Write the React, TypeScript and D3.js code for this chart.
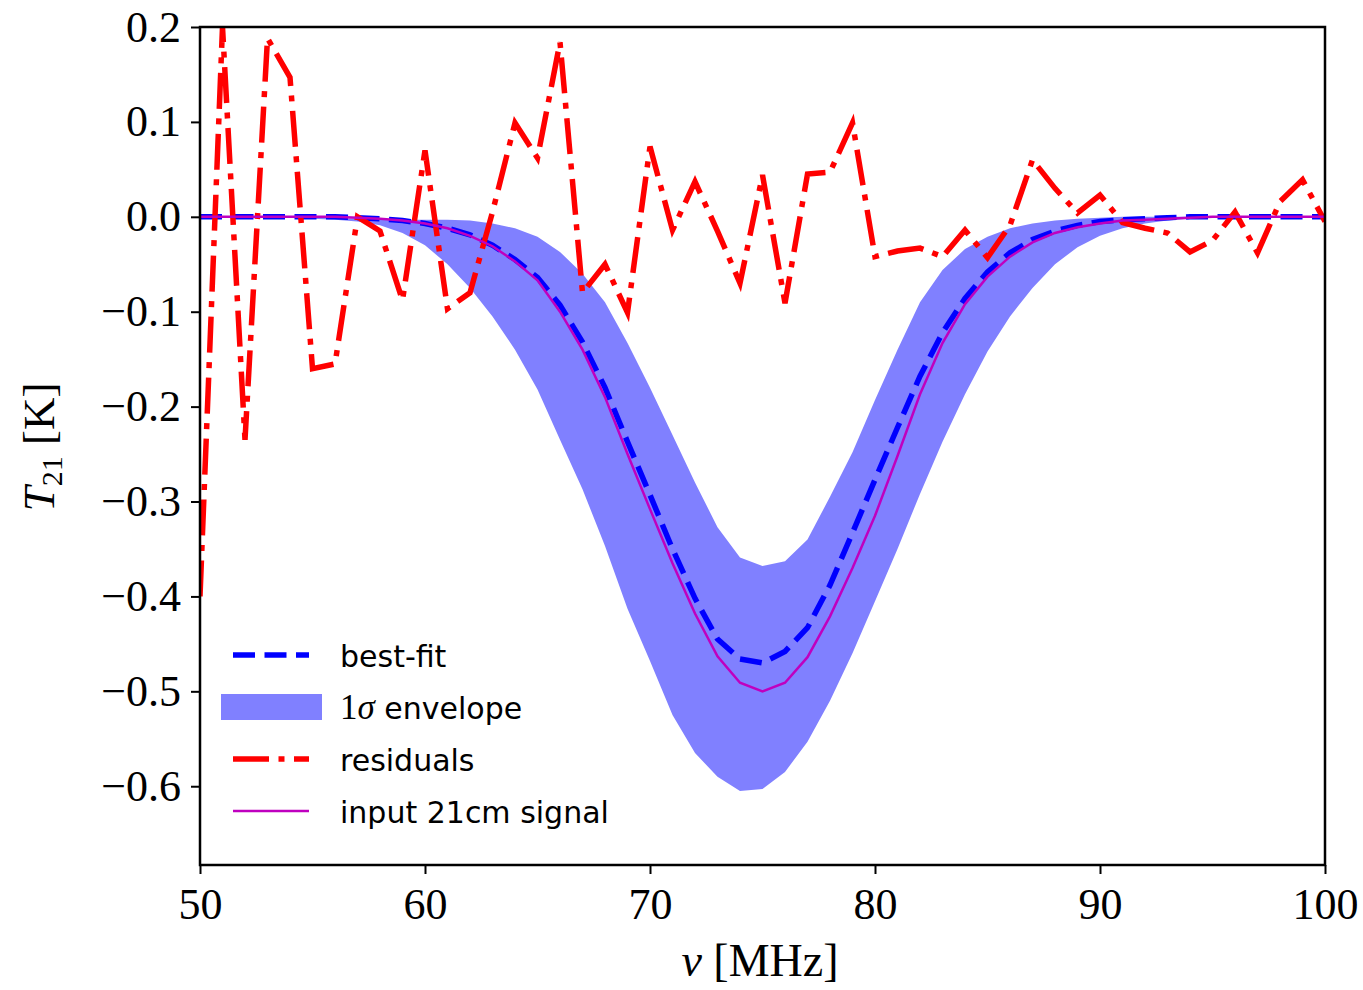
import React, { useEffect, useRef } from "react";
import * as d3 from "d3";

// frequency grid (MHz)
const freqs = [
  50, 51, 52, 53, 54, 55, 56, 57, 58, 59,
  60, 61, 62, 63, 64, 65, 66, 67, 68, 69,
  70, 71, 72, 73, 74, 75, 76, 77, 78, 79,
  80, 81, 82, 83, 84, 85, 86, 87, 88, 89,
  90, 91, 92, 93, 94, 95, 96, 97, 98, 99, 100,
];

const inputSignal = [
  0, 0, 0, 0, 0, 0, 0, -0.001, -0.002, -0.004,
  -0.007, -0.012, -0.02, -0.031, -0.047, -0.067, -0.1, -0.14, -0.19, -0.25,
  -0.308, -0.365, -0.418, -0.463, -0.491, -0.5, -0.491, -0.464, -0.421, -0.37,
  -0.315, -0.252, -0.187, -0.133, -0.092, -0.063, -0.042, -0.027, -0.017, -0.011,
  -0.007, -0.004, -0.003, -0.002, -0.001, 0, 0, 0, 0, 0, 0,
];

const bestFit = [
  0, 0, 0, 0, 0, 0, 0, -0.001, -0.002, -0.004,
  -0.007, -0.012, -0.019, -0.03, -0.045, -0.064, -0.093, -0.132, -0.18, -0.237,
  -0.293, -0.35, -0.402, -0.445, -0.466, -0.47, -0.458, -0.433, -0.388, -0.333,
  -0.277, -0.222, -0.168, -0.122, -0.086, -0.058, -0.038, -0.024, -0.015, -0.009,
  -0.005, -0.003, -0.002, -0.001, 0, 0, 0, 0, 0, 0, 0,
];

const envHigh = [
  0, 0, 0, 0, 0, -0.001, -0.001, -0.002, -0.002, -0.003,
  -0.003, -0.003, -0.004, -0.007, -0.012, -0.021, -0.037, -0.06, -0.09, -0.133,
  -0.18, -0.23, -0.28, -0.327, -0.359, -0.368, -0.363, -0.34, -0.295, -0.248,
  -0.193, -0.14, -0.09, -0.056, -0.034, -0.021, -0.012, -0.007, -0.004, -0.002,
  -0.001, 0, 0, 0, 0, 0, 0, 0, 0, 0, 0,
];

const envLow = [
  0, 0, 0, -0.001, -0.001, -0.002, -0.003, -0.005, -0.009, -0.017,
  -0.03, -0.05, -0.075, -0.105, -0.14, -0.182, -0.235, -0.287, -0.347, -0.413,
  -0.468, -0.525, -0.565, -0.59, -0.605, -0.603, -0.585, -0.553, -0.51, -0.46,
  -0.405, -0.35, -0.292, -0.237, -0.187, -0.142, -0.105, -0.075, -0.05, -0.032,
  -0.02, -0.012, -0.007, -0.004, -0.002, -0.001, 0, 0, 0, 0, 0,
];

const residuals = [
  -0.4, 0.2, -0.235, 0.188, 0.147, -0.16, -0.155, 0.0, -0.015, -0.088,
  0.07, -0.097, -0.08, 0.005, 0.099, 0.062, 0.184, -0.08, -0.05, -0.101,
  0.074, -0.014, 0.037, -0.015, -0.07, 0.044, -0.091, 0.045, 0.047, 0.099,
  -0.042, -0.036, -0.033, -0.042, -0.014, -0.043, -0.009, 0.06, 0.03, 0.004,
  0.023, -0.006, -0.012, -0.017, -0.037, -0.025, 0.005, -0.038, 0.016, 0.039, -0.005,
];

const xTicks = [50, 60, 70, 80, 90, 100];
const yTicks = [0.2, 0.1, 0.0, -0.1, -0.2, -0.3, -0.4, -0.5, -0.6];

const legendItems = ["best-fit", "envelope", "residuals", "input 21cm signal"];

function App() {
  const ref = useRef<SVGSVGElement>(null);

  useEffect(() => {
    drawChart();
  }, []);

  function drawChart() {
    const svg = d3.select(ref.current);
    svg.selectAll("*").remove();

    const left = 200, right = 1325, top = 27, bottom = 865;
    const serif = "'Liberation Serif', 'Times New Roman', serif";
    const sans = "'DejaVu Sans', sans-serif";

    const x = d3.scaleLinear().domain([50, 100]).range([left, right]);
    const y = d3.scaleLinear().domain([-0.683, 0.2]).range([bottom, top]);

    svg.append("rect").attr("width", 1363).attr("height", 990).attr("fill", "#fff");

    svg.append("clipPath").attr("id", "plot-clip")
      .append("rect")
      .attr("x", left).attr("y", top)
      .attr("width", right - left).attr("height", bottom - top);

    const g = svg.append("g").attr("clip-path", "url(#plot-clip)");

    // 1 sigma envelope
    const area = d3.area<number>()
      .x((d, i) => x(freqs[i]))
      .y0((d, i) => y(envLow[i]))
      .y1((d, i) => y(envHigh[i]));

    g.append("path")
      .attr("d", area(freqs))
      .attr("fill", "#8080ff");

    const line = (vals: number[]) =>
      d3.line<number>()
        .x((d, i) => x(freqs[i]))
        .y((d) => y(d))(vals);

    // best fit
    g.append("path")
      .attr("d", line(bestFit))
      .attr("fill", "none")
      .attr("stroke", "#0000ff")
      .attr("stroke-width", 5.5)
      .attr("stroke-dasharray", "22,9.5");

    // residuals
    g.append("path")
      .attr("d", line(residuals))
      .attr("fill", "none")
      .attr("stroke", "#ff0000")
      .attr("stroke-width", 5.5)
      .attr("stroke-dasharray", "36,9.5,6,9.5");

    // input signal
    g.append("path")
      .attr("d", line(inputSignal))
      .attr("fill", "none")
      .attr("stroke", "#bf00bf")
      .attr("stroke-width", 2.5);

    // frame
    svg.append("rect")
      .attr("x", left).attr("y", top)
      .attr("width", right - left).attr("height", bottom - top)
      .attr("fill", "none")
      .attr("stroke", "#000")
      .attr("stroke-width", 2.5);

    // X axis
    const xAxis = svg.append("g")
      .attr("transform", `translate(0,${bottom})`)
      .call(d3.axisBottom(x).tickValues(xTicks).tickSize(9).tickSizeOuter(0).tickPadding(14)
        .tickFormat((d) => String(d)));
    xAxis.select(".domain").remove();
    xAxis.selectAll(".tick line").attr("stroke", "#000").attr("stroke-width", 2);
    xAxis.selectAll(".tick text")
      .attr("font-family", serif)
      .attr("font-size", 44)
      .attr("fill", "#000");

    // Y axis
    const yAxis = svg.append("g")
      .attr("transform", `translate(${left},0)`)
      .call(d3.axisLeft(y).tickValues(yTicks).tickSize(9).tickSizeOuter(0).tickPadding(10)
        .tickFormat((d) => ((d as number) < -1e-9 ? "\u2212" : "") + Math.abs(d as number).toFixed(1)));
    yAxis.select(".domain").remove();
    yAxis.selectAll(".tick line").attr("stroke", "#000").attr("stroke-width", 2);
    yAxis.selectAll(".tick text")
      .attr("font-family", serif)
      .attr("font-size", 44)
      .attr("fill", "#000");

    // axis labels
    const xLabel = svg.append("text")
      .attr("x", 760).attr("y", 976)
      .attr("text-anchor", "middle")
      .attr("font-family", serif)
      .attr("font-size", 46);
    xLabel.append("tspan").attr("font-style", "italic").text("\u03bd");
    xLabel.append("tspan").text(" [MHz]");

    const yLabel = svg.append("text")
      .attr("transform", "translate(54,447) rotate(-90)")
      .attr("text-anchor", "middle")
      .attr("font-family", serif)
      .attr("font-size", 45);
    yLabel.append("tspan").attr("font-style", "italic").text("T");
    yLabel.append("tspan").attr("font-size", 30).attr("dy", 8).text("21");
    yLabel.append("tspan").attr("dy", -8).text(" [K]");

    // Legend
    const legend = svg.append("g");
    const lx0 = 233, lx1 = 309, tx = 340;
    const rows = [655, 707, 759, 811];

    legend.append("line")
      .attr("x1", lx0).attr("x2", lx1).attr("y1", rows[0]).attr("y2", rows[0])
      .attr("stroke", "#0000ff").attr("stroke-width", 5.5).attr("stroke-dasharray", "22,9.5");
    legend.append("rect")
      .attr("x", 221).attr("y", rows[1] - 13).attr("width", 101).attr("height", 26)
      .attr("fill", "#8080ff");
    legend.append("line")
      .attr("x1", lx0).attr("x2", lx1).attr("y1", rows[2]).attr("y2", rows[2])
      .attr("stroke", "#ff0000").attr("stroke-width", 5.5).attr("stroke-dasharray", "36,9.5,6,9.5");
    legend.append("line")
      .attr("x1", lx0).attr("x2", lx1).attr("y1", rows[3]).attr("y2", rows[3])
      .attr("stroke", "#bf00bf").attr("stroke-width", 2.5);

    legendItems.forEach((label, i) => {
      const t = legend.append("text")
        .attr("x", tx).attr("y", rows[i] + 12)
        .attr("font-family", sans)
        .attr("font-size", 30)
        .attr("fill", "#000");
      if (label === "envelope") {
        t.append("tspan").attr("font-family", serif).attr("font-size", 35).text("1");
        t.append("tspan").attr("font-family", serif).attr("font-style", "italic").attr("font-size", 35).text("\u03c3");
        t.append("tspan").text(" " + label);
      } else {
        t.text(label);
      }
    });
  }

  return (
    <svg
      ref={ref}
      width={1363}
      height={990}
      style={{ position: "absolute", left: 0, top: 0, display: "block" }}
    />
  );
}

export default App;
